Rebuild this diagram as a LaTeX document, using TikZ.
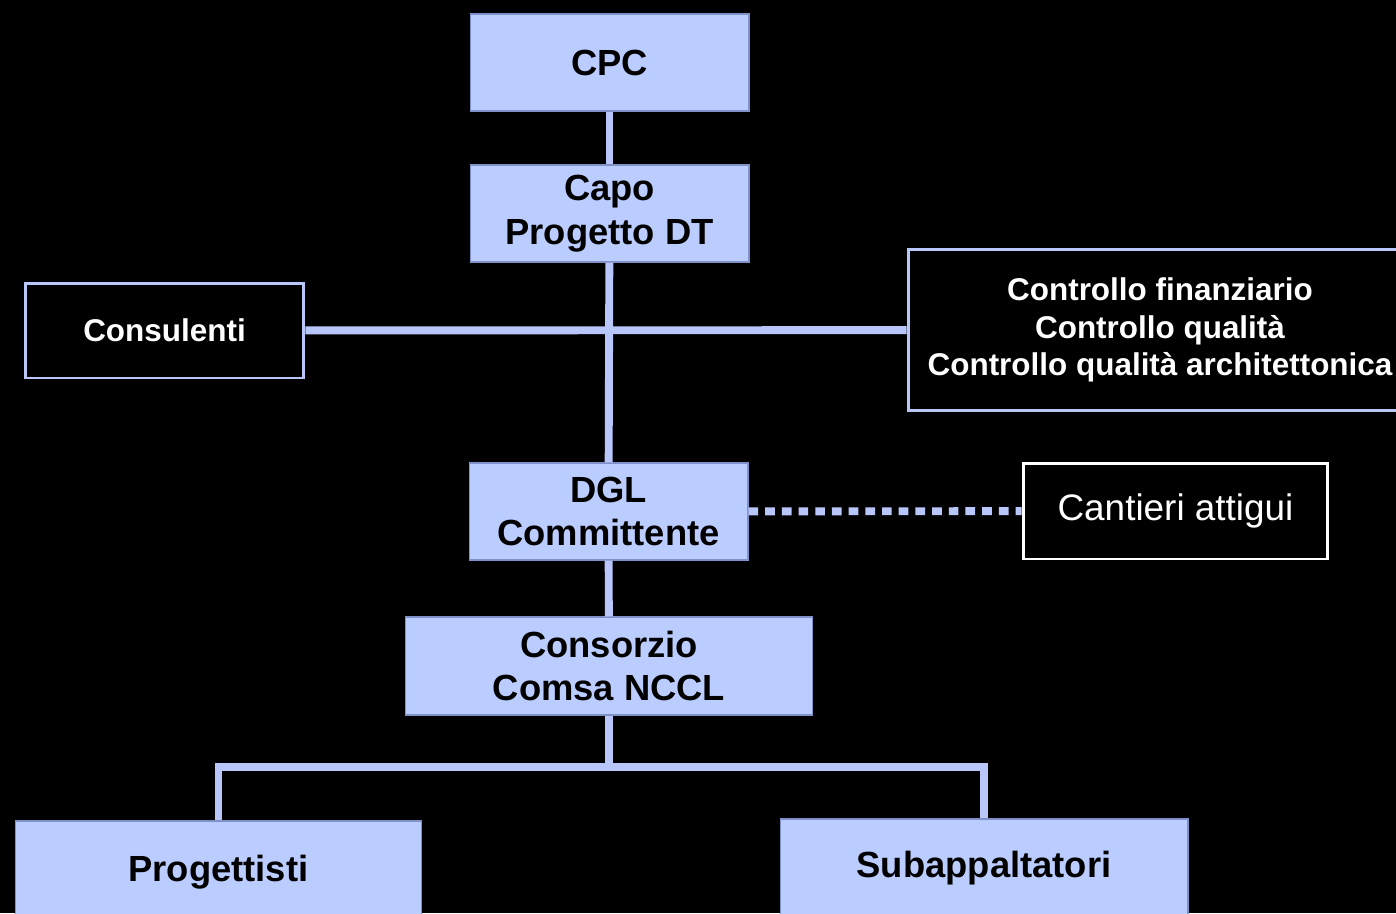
\documentclass[tikz,border=0pt]{standalone}
\usepackage{fontspec}
\setmainfont{Liberation Sans}
\usetikzlibrary{positioning}
\definecolor{boxblue}{RGB}{187,204,255}
\definecolor{edgeblue}{RGB}{128,144,200}
\definecolor{lineblue}{RGB}{184,198,250}

\begin{document}
\begin{tikzpicture}[x=0.02cm, y=-0.02cm,
  bluebox/.style={draw=edgeblue, line width=0.6pt, fill=boxblue, text=black, align=center, inner sep=0pt,
    font=\fontsize{20.7}{25}\selectfont\bfseries},
  darkbox/.style={draw=lineblue, line width=1.7pt, fill=black, text=white, align=center, inner sep=0pt,
    font=\fontsize{17.9}{21.5}\selectfont\bfseries},
  link/.style={lineblue, line width=4.5pt}]
	\fill[black] (0,0) rectangle (1396,913);
	\useasboundingbox (0,0) rectangle (1396,913);
	\node[bluebox, minimum width=5.58cm, minimum height=1.94cm] (cpc) at (609.5,62.5) {CPC};
	\node[bluebox, minimum width=5.58cm, minimum height=1.94cm] (capo) at (609.5,213.5) {Capo\\Progetto DT};
	\node[darkbox, minimum width=5.58cm, minimum height=1.9cm] (consulenti) at (164.5,330.5) {Consulenti};
	\node[darkbox, minimum width=10.08cm, minimum height=3.24cm] (controllo) at (1160,330) {Controllo finanziario\\Controllo qualità\\Controllo qualità architettonica};
	\node[bluebox, minimum width=5.58cm, minimum height=1.94cm] (dgl) at (608.5,511.5) {DGL\\Committente};
	\node[draw=white, line width=1.7pt, fill=black, text=white, inner sep=0pt, minimum width=6.1cm, minimum height=1.92cm,
	  font=\fontsize{21}{25}\selectfont] (cantieri) at (1175.5,511) {Cantieri attigui};
	\node[bluebox, minimum width=8.16cm, minimum height=1.96cm] (consorzio) at (609,666) {Consorzio\\Comsa NCCL};
	\node[bluebox, minimum width=8.14cm, minimum height=2.04cm] (progettisti) at (218.5,872) {Progettisti};
	\node[bluebox, minimum width=8.16cm, minimum height=1.96cm] (subappalto) at (984,868) {Subappaltatori};
	\coordinate (fork) at (609,767);
	\draw[link] (cpc) -- (capo);
	\draw[link] (capo) -- (dgl);
	\draw[link] (consulenti) -- (controllo);
	\draw[link, dash pattern=on 5.5pt off 4pt] (dgl) -- (cantieri);
	\draw[link] (dgl) -- (consorzio);
	\draw[link] (consorzio) -- (fork);
	\draw[link] (fork) -| (progettisti);
	\draw[link] (fork) -| (subappalto);
\end{tikzpicture}
\end{document}
